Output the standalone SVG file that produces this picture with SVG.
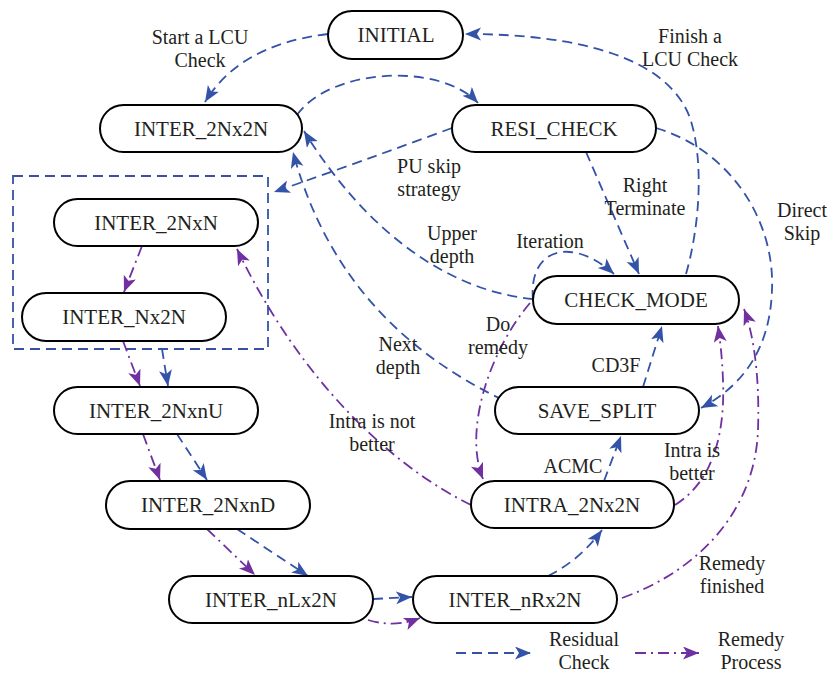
<svg xmlns="http://www.w3.org/2000/svg" width="830" height="673" viewBox="0 0 830 673">
<style>
text{font-family:"Liberation Serif","Times New Roman",serif;font-size:21px;fill:#231f20;text-anchor:middle}
#labels text{font-size:20px}
.n rect{fill:#fff;stroke:#000;stroke-width:2}
.b{fill:none;stroke:#3353a8;stroke-width:1.8;stroke-dasharray:10,6;marker-end:url(#ab)}
.p{fill:none;stroke:#7030a0;stroke-width:1.8;stroke-dasharray:11,5,2,5;marker-end:url(#ap)}
</style>
<defs>
<marker id="ab" markerUnits="userSpaceOnUse" markerWidth="18" markerHeight="14" refX="16" refY="6.5" orient="auto"><path d="M0,0 L16,6.5 L0,13 L4,6.5 z" fill="#3353a8"/></marker>
<marker id="ap" markerUnits="userSpaceOnUse" markerWidth="18" markerHeight="14" refX="16" refY="6.5" orient="auto"><path d="M0,0 L16,6.5 L0,13 L4,6.5 z" fill="#7030a0"/></marker>
</defs>
<rect x="13" y="176" width="255" height="173" fill="none" stroke="#3353a8" stroke-width="1.8" stroke-dasharray="10,6"/>
<g id="connectors">
<path class="b" d="M328,34 C262,42 226,68 205,102"/>
<path class="b" d="M297,115 C330,68 440,62 478,103"/>
<path class="b" d="M452,128 Q360,162 274,192"/>
<path class="b" d="M586,152 L639,274"/>
<path class="b" d="M686,274 C700,225 704,160 690,118 C668,58 580,34 465,34"/>
<path class="b" d="M656,128 C730,150 775,220 772,290 C770,350 742,386 701,408"/>
<path class="b" d="M533,299 C440,290 360,222 304,131"/>
<path class="b" d="M503,400 C420,360 330,290 293,152"/>
<path class="b" d="M533,300 C528,248 572,236 614,274"/>
<path class="b" d="M643,387 L662,326"/>
<path class="b" d="M604,481 L621,436"/>
<path class="b" d="M548,576 Q580,560 602,530"/>
<path class="b" d="M373,599 L412,597"/>
<path class="b" d="M237,529 L308,576"/>
<path class="b" d="M177,434 L207,480"/>
<path class="b" d="M162,349 L168,386"/>
<path class="p" d="M142,246 L124,292"/>
<path class="p" d="M123,341 L140,386"/>
<path class="p" d="M143,434 L160,480"/>
<path class="p" d="M207,529 L255,575"/>
<path class="p" d="M368,620 Q395,628 420,618"/>
<path class="p" d="M471,505 C390,465 300,380 237,249"/>
<path class="p" d="M530,303 C490,350 463,430 483,479"/>
<path class="p" d="M675,505 C715,480 725,430 723,380 C722,355 720,340 718,326"/>
<path class="p" d="M622,598 C700,570 755,510 758,430 C760,370 752,330 744,309"/>
<path class="b" d="M456,653 L531,653"/>
<path class="p" d="M635,653 L699,653"/>
</g>
<g id="INITIAL" class="n"><rect x="328" y="11" width="135" height="48" rx="24"/><text x="396" y="42">INITIAL</text></g>
<g id="INTER_2Nx2N" class="n"><rect x="100" y="105" width="202" height="47" rx="23.5"/><text x="201" y="136">INTER_2Nx2N</text></g>
<g id="RESI_CHECK" class="n"><rect x="452" y="105" width="204" height="47" rx="23.5"/><text x="554" y="136">RESI_CHECK</text></g>
<g id="INTER_2NxN" class="n"><rect x="54" y="199" width="204" height="47" rx="23.5"/><text x="156" y="230">INTER_2NxN</text></g>
<g id="INTER_Nx2N" class="n"><rect x="22" y="293" width="204" height="48" rx="24"/><text x="124" y="324">INTER_Nx2N</text></g>
<g id="INTER_2NxnU" class="n"><rect x="54" y="387" width="204" height="47" rx="23.5"/><text x="156" y="418">INTER_2NxnU</text></g>
<g id="INTER_2NxnD" class="n"><rect x="106" y="481" width="204" height="48" rx="24"/><text x="208" y="512">INTER_2NxnD</text></g>
<g id="INTER_nLx2N" class="n"><rect x="169" y="576" width="204" height="47" rx="23.5"/><text x="271" y="607">INTER_nLx2N</text></g>
<g id="INTER_nRx2N" class="n"><rect x="413" y="576" width="204" height="47" rx="23.5"/><text x="515" y="607">INTER_nRx2N</text></g>
<g id="CHECK_MODE" class="n"><rect x="533" y="276" width="206" height="48" rx="24"/><text x="636" y="307">CHECK_MODE</text></g>
<g id="SAVE_SPLIT" class="n"><rect x="495" y="387" width="204" height="47" rx="23.5"/><text x="597" y="418">SAVE_SPLIT</text></g>
<g id="INTRA_2Nx2N" class="n"><rect x="471" y="481" width="203" height="47" rx="23.5"/><text x="572" y="512">INTRA_2Nx2N</text></g>
<g id="labels">
<text x="200" y="44">Start a LCU</text><text x="200" y="67">Check</text>
<text x="690" y="43">Finish a</text><text x="690" y="66">LCU Check</text>
<text x="429" y="173">PU skip</text><text x="429" y="196">strategy</text>
<text x="645" y="192">Right</text><text x="645" y="215">Terminate</text>
<text x="802" y="217">Direct</text><text x="802" y="240">Skip</text>
<text x="550" y="248">Iteration</text>
<text x="452" y="240">Upper</text><text x="452" y="263">depth</text>
<text x="398" y="351">Next</text><text x="398" y="374">depth</text>
<text x="498" y="331">Do</text><text x="498" y="354">remedy</text>
<text x="616" y="372">CD3F</text>
<text x="573" y="473">ACMC</text>
<text x="692" y="457">Intra is</text><text x="692" y="480">better</text>
<text x="372" y="428">Intra is not</text><text x="372" y="451">better</text>
<text x="732" y="570">Remedy</text><text x="732" y="593">finished</text>
<text x="584" y="646">Residual</text><text x="584" y="669">Check</text>
<text x="751" y="646">Remedy</text><text x="751" y="669">Process</text>
</g>
</svg>
